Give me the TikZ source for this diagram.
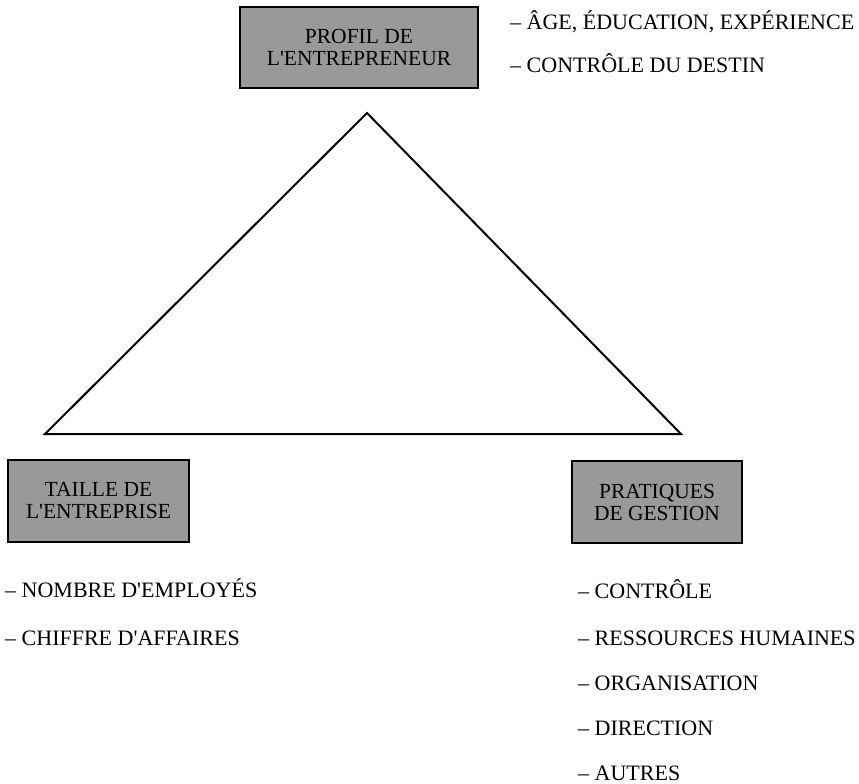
\documentclass[tikz,border=0pt]{standalone}
\usepackage{fontspec}
\setmainfont{Liberation Serif}
\begin{document}
\begin{tikzpicture}[x=1pt,y=-1pt,
  boite/.style={draw,line width=2.5pt,fill=black!40,align=center,inner sep=0pt,font=\fontsize{21.5}{22}\selectfont},
  liste/.style={anchor=base west,inner sep=0pt,font=\fontsize{22}{26}\selectfont}]
\useasboundingbox (0,0) rectangle (859,784);

\node[boite,minimum width=238,minimum height=81](profil) at (359,47.5){PROFIL DE\\L\textquotesingle ENTREPRENEUR};
\node[boite,minimum width=181,minimum height=82](taille) at (98.5,501){TAILLE DE\\L\textquotesingle ENTREPRISE};
\node[boite,minimum width=170,minimum height=82](pratiques) at (657,502){PRATIQUES\\DE GESTION};

\coordinate (sommet) at (367,113);
\coordinate (gauche) at (45,434);
\coordinate (droite) at (681,434);
\draw[line width=2pt,line join=miter](sommet)--(gauche)--(droite)--cycle;

\node[liste](age) at (510,30){– ÂGE, ÉDUCATION, EXPÉRIENCE};
\node[liste](destin) at (510,72){– CONTRÔLE DU DESTIN};

\node[liste](employes) at (5,597){– NOMBRE D\textquotesingle EMPLOYÉS};
\node[liste](chiffre) at (5,645){– CHIFFRE D\textquotesingle AFFAIRES};

\node[liste](controle) at (578,598){– CONTRÔLE};
\node[liste](ressources) at (578,645){– RESSOURCES HUMAINES};
\node[liste](organisation) at (578,690){– ORGANISATION};
\node[liste](direction) at (578,735){– DIRECTION};
\node[liste](autres) at (578,780){– AUTRES};
\end{tikzpicture}
\end{document}
